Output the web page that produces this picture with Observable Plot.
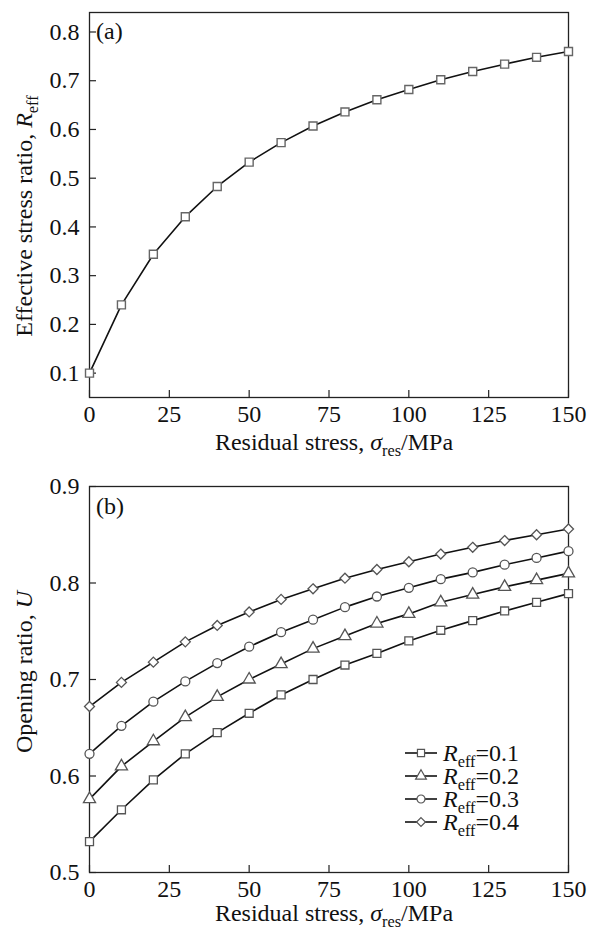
<!DOCTYPE html>
<html><head><meta charset="utf-8">
<script src="https://cdn.jsdelivr.net/npm/d3@7"></script>
<script src="https://cdn.jsdelivr.net/npm/@observablehq/plot@0.6"></script>
<style>
body{margin:0;background:#fff}
#chart svg{display:block}
</style>
</head><body><div id="chart"></div>
<script>
// ---- data ----
const stress = [0,10,20,30,40,50,60,70,80,90,100,110,120,130,140,150];
const reffA = [0.100,0.240,0.344,0.421,0.483,0.533,0.573,0.607,0.636,0.661,0.682,0.702,0.719,0.734,0.748,0.760];
const seriesNames = ["0.1","0.2","0.3","0.4"];
const uR01 = [0.532,0.565,0.596,0.623,0.645,0.665,0.684,0.700,0.715,0.727,0.740,0.751,0.761,0.771,0.780,0.789];
const uR02 = [0.576,0.610,0.636,0.661,0.682,0.700,0.716,0.732,0.745,0.758,0.768,0.780,0.788,0.796,0.803,0.810];
const uR03 = [0.623,0.652,0.677,0.698,0.717,0.734,0.749,0.762,0.775,0.786,0.795,0.804,0.811,0.819,0.826,0.833];
const uR04 = [0.672,0.697,0.718,0.739,0.756,0.770,0.783,0.794,0.805,0.814,0.822,0.830,0.837,0.844,0.850,0.856];
const xTicks = [0,25,50,75,100,125,150];
const yTicksA = [0.1,0.2,0.3,0.4,0.5,0.6,0.7,0.8];
const yTicksB = [0.5,0.6,0.7,0.8,0.9];
const symbolsB = ["square","triangle","circle","diamond2"];

const dataA = stress.map((s,i)=>({s, v: reffA[i]}));
const seriesB = [uR01,uR02,uR03,uR04];
const dataB = [];
seriesB.forEach((arr,k)=>arr.forEach((v,i)=>dataB.push({s: stress[i], v, series: seriesNames[k]})));

const FONT = "Liberation Serif, Times New Roman, serif";
const TFS = 24;   // tick label size
const LFS = 24;   // titles / legend size

function axes(yTicks){
  return [
    Plot.axisX(xTicks, {tickSize: -7, tickPadding: 14, tickFormat: d=>String(d), fontSize: TFS, fontFamily: FONT, fill: "#111", stroke:"#222", strokeWidth:1.2}),
    Plot.axisY(yTicks, {tickSize: -7, tickPadding: 17, tickFormat: d=>d.toFixed(1), fontSize: TFS, fontFamily: FONT, fill: "#111", stroke:"#222", strokeWidth:1.2})
  ];
}

const plotA = Plot.plot({
  width: 592, height: 460,
  marginLeft: 89, marginRight: 24, marginTop: 12, marginBottom: 63,
  style: {fontFamily: FONT, fontSize: TFS+"px", color: "#111", background: "#fff", overflow: "visible"},
  x: {domain: [0,150], label: null},
  y: {domain: [0.05,0.84], label: null},
  marks: [
    ...axes(yTicksA),
    Plot.frame({stroke: "#222", strokeWidth: 1.3}),
    Plot.line(dataA, {x: "s", y: "v", stroke: "#111", strokeWidth: 1.6}),
    Plot.dot(dataA, {x: "s", y: "v", symbol: "square", r: 4.5, fill: "white", stroke: "#666", strokeWidth: 1.4})
  ]
});

const plotB = Plot.plot({
  width: 592, height: 471,
  marginLeft: 89, marginRight: 24, marginTop: 26, marginBottom: 59,
  style: {fontFamily: FONT, fontSize: TFS+"px", color: "#111", background: "#fff", overflow: "visible"},
  x: {domain: [0,150], label: null},
  y: {domain: [0.5,0.9], label: null},
  symbol: {domain: seriesNames, range: symbolsB},
  marks: [
    ...axes(yTicksB),
    Plot.frame({stroke: "#222", strokeWidth: 1.3}),
    Plot.line(dataB, {x: "s", y: "v", z: "series", stroke: "#111", strokeWidth: 1.6}),
    Plot.dot(dataB, {x: "s", y: "v", symbol: "series", r: 4.5, fill: "white", stroke: "#555", strokeWidth: 1.3})
  ]
});

const root = document.getElementById("chart");
root.appendChild(plotA);
root.appendChild(plotB);

// rich text helper
function rich(svg, x, y, parts, {anchor="middle", rotate=0, size=LFS}={}){
  const t = d3.select(svg).append("text")
    .attr("transform", `translate(${x},${y}) rotate(${rotate})`)
    .attr("text-anchor", anchor)
    .attr("font-family", FONT).attr("font-size", size).attr("fill", "#111");
  let shifted = false;
  for (const p of parts){
    const span = t.append("tspan").text(p.t);
    if (p.i) span.attr("font-style", "italic");
    if (p.sub){ span.attr("font-size", size*0.68).attr("dy", size*0.24); shifted = true; }
    else if (shifted){ span.attr("dy", -size*0.24); shifted = false; }
  }
  return t;
}

const xLab = [{t:"Residual stress, "},{t:"σ",i:true},{t:"res",sub:true},{t:"/MPa"}];
rich(plotA, 334, 450, xLab);
rich(plotB, 334, 461, xLab);
rich(plotA, 32, 216, [{t:"Effective stress ratio, "},{t:"R",i:true},{t:"eff",sub:true}], {rotate:-90});
rich(plotB, 32, 212, [{t:"Opening ratio, "},{t:"U",i:true}], {rotate:-90});
rich(plotA, 96, 39, [{t:"(a)"}], {anchor:"start"});
rich(plotB, 96, 54, [{t:"(b)"}], {anchor:"start"});

// legend in panel (b)
const legY = [293, 316, 339, 362];
const symFns = [d3.symbolSquare, d3.symbolTriangle, d3.symbolCircle, d3.symbolDiamond2];
const g = d3.select(plotB).append("g");
seriesNames.forEach((name,k)=>{
  const y = legY[k];
  g.append("line").attr("x1",405).attr("x2",437).attr("y1",y).attr("y2",y).attr("stroke","#111").attr("stroke-width",1.6);
  g.append("path").attr("transform",`translate(421,${y})`)
    .attr("d", d3.symbol(symFns[k], Math.PI*4*4)())
    .attr("fill","white").attr("stroke","#555").attr("stroke-width",1.2);
  rich(plotB, 443, y+8, [{t:"R",i:true},{t:"eff",sub:true},{t:"=" + name}], {anchor:"start"});
});
</script>
</body></html>
